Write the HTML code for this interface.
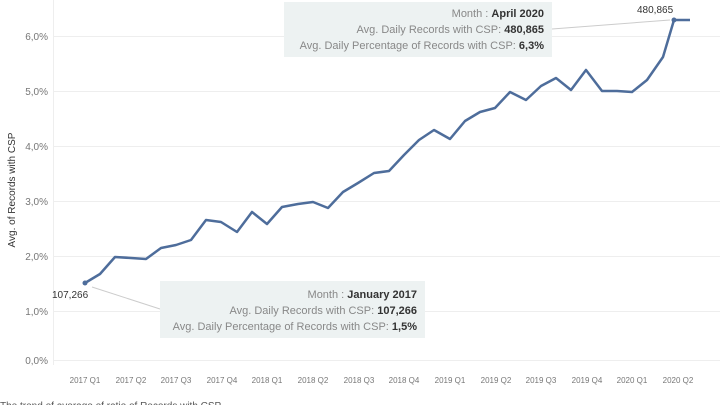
<!DOCTYPE html>
<html><head><style>
body{margin:0;width:720px;height:405px;overflow:hidden;background:#fff;font-family:"Liberation Sans",sans-serif;position:relative}
.tt{position:absolute;background:#edf2f2;color:#888;font-size:11px;text-align:right;line-height:16px;padding:4px 8px;box-sizing:border-box}
.tt b{color:#333}
</style></head><body>
<svg width="720" height="405" style="position:absolute;left:0;top:0">
<g stroke="#eee" stroke-width="1">
<line x1="53" x2="720" y1="360.5" y2="360.5"/><line x1="53" x2="720" y1="311.5" y2="311.5"/><line x1="53" x2="720" y1="256.5" y2="256.5"/><line x1="53" x2="720" y1="201.5" y2="201.5"/><line x1="53" x2="720" y1="146.5" y2="146.5"/><line x1="53" x2="720" y1="91.5" y2="91.5"/><line x1="53" x2="720" y1="36.5" y2="36.5"/>
<line x1="53.5" x2="53.5" y1="0" y2="365"/>
</g>
<g font-size="10" fill="#777" text-anchor="end">
<text x="48" y="364">0,0%</text><text x="48" y="315">1,0%</text><text x="48" y="260">2,0%</text><text x="48" y="205">3,0%</text><text x="48" y="150">4,0%</text><text x="48" y="95">5,0%</text><text x="48" y="40">6,0%</text>
</g>
<text transform="translate(15,190) rotate(-90)" font-size="10" fill="#333" text-anchor="middle">Avg. of Records with CSP</text>
<g font-size="8" fill="#777" text-anchor="middle">
<text x="85" y="383">2017 Q1</text><text x="131" y="383">2017 Q2</text><text x="176" y="383">2017 Q3</text><text x="222" y="383">2017 Q4</text><text x="267" y="383">2018 Q1</text><text x="313" y="383">2018 Q2</text><text x="359" y="383">2018 Q3</text><text x="404" y="383">2018 Q4</text><text x="450" y="383">2019 Q1</text><text x="496" y="383">2019 Q2</text><text x="541" y="383">2019 Q3</text><text x="587" y="383">2019 Q4</text><text x="632" y="383">2020 Q1</text><text x="678" y="383">2020 Q2</text>
</g>
<line x1="92" y1="287" x2="160" y2="309" stroke="#ccc"/>
<line x1="552" y1="29" x2="670" y2="20" stroke="#ccc"/>
<polyline fill="none" stroke="#4e6d9b" stroke-width="2.5" stroke-linejoin="round" points="85,283 100,274 115,257 131,258 146,259 161,248 176,245 191,240 206,220 221,222 237,232 252,212 267,224 282,207 298,204 313,202 328,208 343,192 358,183 374,173 389,171 404,155 419,140 434,130 450,139 465,121 480,112 495,108 510,92 526,100 541,86 556,78 571,90 586,70 602,91 617,91 632,92 647,80 663,57 674,20 690,20"/>
<circle cx="85" cy="283" r="2.5" fill="#4e6d9b"/><circle cx="674" cy="20" r="2.5" fill="#4e6d9b"/>
<text x="52" y="298" font-size="10" fill="#333">107,266</text>
<text x="637" y="13" font-size="10" fill="#333">480,865</text>
<text x="0" y="409" font-size="10" fill="#555">The trend of average of ratio of Records with CSP</text>
</svg>
<div class="tt" style="left:284px;top:2px;width:268px;height:55px">Month : <b>April 2020</b><br>Avg. Daily Records with CSP: <b>480,865</b><br>Avg. Daily Percentage of Records with CSP: <b>6,3%</b></div>
<div class="tt" style="left:160px;top:281px;width:265px;height:57px;padding-top:6px">Month : <b>January 2017</b><br>Avg. Daily Records with CSP: <b>107,266</b><br>Avg. Daily Percentage of Records with CSP: <b>1,5%</b></div>
</body></html>
